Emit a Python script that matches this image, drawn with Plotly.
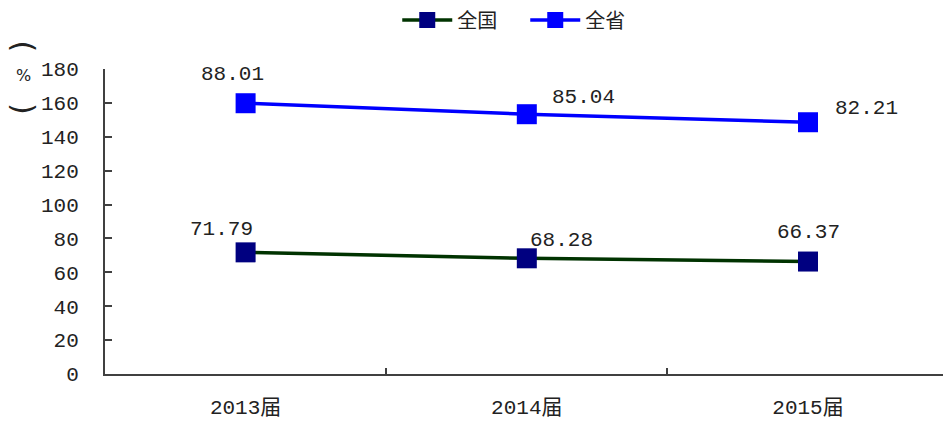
import plotly.graph_objects as go

categories = ["2013届", "2014届", "2015届"]
national = [71.79, 68.28, 66.37]
province = [88.01, 85.04, 82.21]
y_ticks = [0, 20, 40, 60, 80, 100, 120, 140, 160, 180]

MONO = "Liberation Mono, Noto Sans CJK SC, monospace"
CJK = "Noto Sans CJK SC, sans-serif"

fig = go.Figure()
fig.add_trace(go.Scatter(
    x=categories, y=national, name="全国", mode="lines+markers",
    stackgroup="s", fill="none",
    line=dict(color="#003300", width=3.5),
    marker=dict(symbol="square", size=20, color="#000080",
                line=dict(color="#000080", width=0)),
))
fig.add_trace(go.Scatter(
    x=categories, y=province, name="全省", mode="lines+markers",
    stackgroup="s", fill="none",
    line=dict(color="#0000FF", width=3.5),
    marker=dict(symbol="square", size=20, color="#0000FF"),
))

# data labels (values shown raw, positioned at stacked heights)
nat_shifts = [(-24, 23), (35, 18), (0, 29)]
prov_shifts = [(-13, 29), (57, 17), (58, 14)]
for i, c in enumerate(categories):
    fig.add_annotation(x=c, y=national[i], xref="x", yref="y",
                       text=f"{national[i]:.2f}", showarrow=False,
                       xshift=nat_shifts[i][0], yshift=nat_shifts[i][1],
                       font=dict(family=MONO, size=21, color="#222"))
    top = national[i] + province[i]
    fig.add_annotation(x=c, y=top, xref="x", yref="y",
                       text=f"{province[i]:.2f}", showarrow=False,
                       xshift=prov_shifts[i][0], yshift=prov_shifts[i][1],
                       font=dict(family=MONO, size=21, color="#222"))

# vertical y-axis unit: （%） written vertically
for txt, yy, ang, sz in [("(", 1.075, 90, 30), ("%", 0.98, 0, 16), (")", 0.870, 90, 30)]:
    fig.add_annotation(xref="paper", yref="paper", x=-0.097, y=yy,
                       text=txt, showarrow=False, textangle=ang,
                       font=dict(family="DejaVu Sans, sans-serif", size=sz, color="#222"),
                       xanchor="center", yanchor="middle")

fig.update_layout(
    width=943, height=421,
    margin=dict(l=105, r=0, t=69, b=47, autoexpand=False),
    paper_bgcolor="white", plot_bgcolor="white",
    showlegend=True,
    legend=dict(orientation="h", xref="container", yref="container",
                x=0.557, y=0.9525, xanchor="center", yanchor="middle",
                font=dict(family=CJK, size=20, color="#222"),
                itemwidth=50, entrywidth=63, entrywidthmode="pixels",
                bgcolor="rgba(0,0,0,0)"),
    xaxis=dict(type="category", range=[-0.5, 2.48], tickson="boundaries",
               ticks="inside", ticklen=6, tickcolor="#404040", tickwidth=2,
               showline=True, linecolor="#404040", linewidth=2,
               showgrid=False, zeroline=False, automargin=False,
               tickfont=dict(family=MONO, size=21, color="#222"),
               ticklabelstandoff=13),
    yaxis=dict(range=[0, 180], tickvals=y_ticks, ticks="inside", ticklen=7,
               tickcolor="#404040", tickwidth=2,
               showline=True, linecolor="#404040", linewidth=2,
               showgrid=False, zeroline=False, automargin=False,
               tickfont=dict(family=MONO, size=21, color="#222"),
               ticklabelstandoff=20),
)

fig.write_html("out.html", config={"displayModeBar": False},
               post_script="document.body.style.margin='0';document.body.style.overflow='hidden';")
